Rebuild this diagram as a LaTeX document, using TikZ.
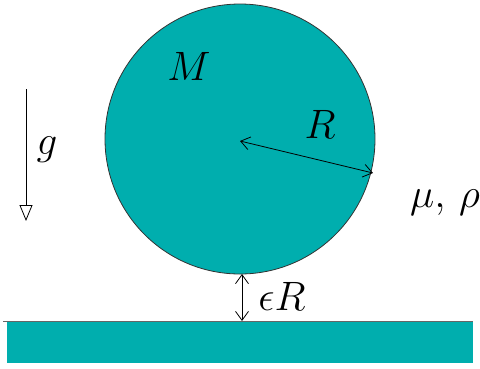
\documentclass[tikz,border=0pt]{standalone}
\usetikzlibrary{arrows.meta}
\definecolor{teal1}{RGB}{0,174,174}
\begin{document}
\begin{tikzpicture}[x=1pt,y=-1pt,
  lbl/.style={inner sep=0pt,font=\Huge,scale=1.65},
  dim/.style={line width=0.8pt,{Straight Barb[length=9pt,width=13pt]}-{Straight Barb[length=9pt,width=13pt]}}]
\useasboundingbox (0,0) rectangle (480,368);
\fill[teal1] (7,321) rectangle (473,363);
\draw[line width=0.8pt,gray!80!black] (3,321) coordinate (wl) -- (473,321) coordinate (wr);
\node[circle,draw=black!80,line width=0.8pt,fill=teal1,minimum size=270pt,inner sep=0pt] (ball) at (240,139) {};
\coordinate (c) at (240,141);
\coordinate (rim) at (373,173);
\draw[dim] (c) -- (rim);
\coordinate (bot) at (242,274);
\coordinate (wall) at (242,321);
\draw[dim] (bot) -- (wall);
\node[lbl] (M) at (189,66) {$M$};
\node[lbl] (R) at (320,124) {$R$};
\node[lbl] (eR) at (282,296) {$\epsilon R$};
\node[lbl] (mr) at (445,203) {$\mu,\,\rho$};
\node[lbl] (g) at (47,150) {$g$};
\coordinate (gt) at (26,89);
\coordinate (gb) at (26,221);
\draw[line width=0.8pt,-{Triangle[open,length=16pt,width=13pt]}] (gt) -- (gb);
\end{tikzpicture}
\end{document}
